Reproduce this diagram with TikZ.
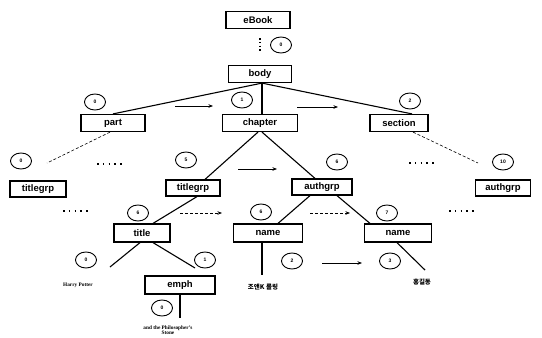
\documentclass[tikz,border=0pt]{standalone}
\usepackage{fontspec}
\setmainfont{Liberation Serif}
\setsansfont{Liberation Sans}
\newfontfamily\krfont{Noto Sans CJK KR}
\usetikzlibrary{shapes.geometric,arrows.meta}
\begin{document}
\begin{tikzpicture}[x=1pt,y=-1pt,
  box/.style={draw, line width=1.2pt, font=\sffamily\bfseries\fontsize{9.5}{10}\selectfont, minimum height=17pt, inner sep=0pt},
  circ/.style={draw, ellipse, line width=0.9pt, minimum width=21pt, minimum height=16pt, inner sep=0pt, font=\sffamily\bfseries\fontsize{5}{5}\selectfont},
  tree/.style={line width=1.1pt},
  dashlink/.style={line width=0.6pt, densely dashed},
  harrow/.style={-{Stealth[length=4.5pt,width=3.5pt]}, line width=0.6pt},
  darrow/.style={-{Stealth[length=4.5pt,width=3.5pt]}, line width=0.6pt, densely dashed},
  dotrow/.style={line width=1.4pt, dash pattern=on 1.6pt off 4.2pt},
  leaf/.style={font=\bfseries\fontsize{5.3}{5.8}\selectfont, inner sep=0pt, align=center}
]
\useasboundingbox (0,0) rectangle (542,338);

% boxes
\node[box, minimum width=64pt] (ebook) at (258,20) {eBook};
\node[box, minimum width=63pt] (body) at (260,74) {body};
\node[box, minimum width=75pt] (chapter) at (260,123) {chapter};
\node[box, minimum width=64pt] (part) at (113,123) {part};
\node[box, minimum width=58pt] (section) at (399,123) {section};
\node[box, minimum width=56pt, minimum height=16pt] (tgL) at (38,189) {titlegrp};
\node[box, minimum width=54pt, minimum height=16pt] (tg) at (193,188) {titlegrp};
\node[box, minimum width=60pt, minimum height=16pt] (ag) at (322,187) {authgrp};
\node[box, minimum width=55pt, minimum height=16pt] (agR) at (503,188) {authgrp};
\node[box, minimum width=56pt, minimum height=18pt] (title) at (142,233) {title};
\node[box, minimum width=69pt, minimum height=18pt] (nameL) at (268,233) {name};
\node[box, minimum width=67pt, minimum height=18pt] (nameR) at (398,233) {name};
\node[box, minimum width=70pt, minimum height=18pt] (emph) at (180,285) {emph};

% circles
\node[circ] (cebook) at (281,45) {0};
\node[circ] (cpart) at (95,102) {0};
\node[circ] (cchap) at (242,100) {1};
\node[circ] (csec) at (410,101) {2};
\node[circ] (ctgL) at (21,161) {0};
\node[circ] (ctg) at (186,160) {5};
\node[circ] (cag) at (337,162) {6};
\node[circ] (cagR) at (503,162) {10};
\node[circ] (ctitle) at (138,213) {6};
\node[circ] (cnameL) at (261,212) {6};
\node[circ] (cnameR) at (387,213) {7};
\node[circ] (chp) at (86,260) {0};
\node[circ] (cemph) at (205,260) {1};
\node[circ] (cemph0) at (162,308) {0};
\node[circ] (ck1) at (292,261) {2};
\node[circ] (ck2) at (390,261) {3};

% ellipsis dots (rows of five dots)
\coordinate (d1s) at (97,164);  \coordinate (d1e) at (123,164);
\coordinate (d2s) at (409,163); \coordinate (d2e) at (435,163);
\coordinate (d3s) at (63,211);  \coordinate (d3e) at (89,211);
\coordinate (d4s) at (449,211); \coordinate (d4e) at (475,211);
\draw[dotrow] (d1s) -- (d1e);
\draw[dotrow] (d2s) -- (d2e);
\draw[dotrow] (d3s) -- (d3e);
\draw[dotrow] (d4s) -- (d4e);

% leaf texts
\node[leaf] (hp) at (78,285) {Harry Potter};
\node[leaf] (phil) at (168,330) {and the Philosopher's\\[-0.5pt]Stone};
\node[font=\krfont\bfseries\fontsize{6.5}{6.5}\selectfont, inner sep=0pt] (kr1) at (263,287) {조앤K 롤링};
\node[font=\krfont\bfseries\fontsize{6.5}{6.5}\selectfont, inner sep=0pt] (kr2) at (422,282) {홍길동};

% free ends
\coordinate (hpend) at (110,267);
\coordinate (emphend) at (195,268);
\coordinate (phend) at (180,318);
\coordinate (kr1end) at (262,275);
\coordinate (kr2end) at (425,270);
\coordinate (tgLend) at (47,163);
\coordinate (agRend) at (478,163);

% tree edges
\draw[line width=1.6pt, dash pattern=on 1.5pt off 2.2pt] ([xshift=2pt,yshift=-9pt]ebook.south) -- ([yshift=14pt]body.north);
\draw[tree] ([xshift=2pt]body.south) -- (part.north);
\draw[tree] ([xshift=2pt]body.south) -- ([xshift=2pt]chapter.north);
\draw[tree] ([xshift=2pt]body.south) -- ([xshift=13pt]section.north);
\draw[tree] ([xshift=-2pt]chapter.south) -- ([xshift=12pt]tg.north);
\draw[tree] ([xshift=2pt]chapter.south) -- ([xshift=-7pt]ag.north);
\draw[tree] ([xshift=4pt]tg.south) -- ([xshift=11pt]title.north);
\draw[tree] ([xshift=-12pt]ag.south) -- ([xshift=10pt]nameL.north);
\draw[tree] ([xshift=15pt]ag.south) -- ([xshift=-28pt]nameR.north);
\draw[tree] ([xshift=-2pt]title.south) -- (hpend);
\draw[tree] ([xshift=11pt]title.south) -- (emphend);
\draw[tree] (emph.south) -- (phend);
\draw[tree] ([xshift=-6pt]nameL.south) -- (kr1end);
\draw[tree] ([xshift=-1pt]nameR.south) -- (kr2end);
\draw[dashlink] ([xshift=-3pt]part.south) -- (tgLend);
\draw[dashlink] ([xshift=14pt]section.south) -- (agRend);

% order arrows
\coordinate (a1s) at (175,106); \coordinate (a1e) at (213,106);
\coordinate (a2s) at (297,107); \coordinate (a2e) at (338,107);
\coordinate (a3s) at (238,169); \coordinate (a3e) at (277,169);
\coordinate (a4s) at (180,213); \coordinate (a4e) at (222,213);
\coordinate (a5s) at (310,213); \coordinate (a5e) at (350,213);
\coordinate (a6s) at (322,263); \coordinate (a6e) at (362,263);
\draw[harrow] (a1s) -- (a1e);
\draw[harrow] (a2s) -- (a2e);
\draw[harrow] (a3s) -- (a3e);
\draw[darrow] (a4s) -- (a4e);
\draw[darrow] (a5s) -- (a5e);
\draw[harrow] (a6s) -- (a6e);
\end{tikzpicture}
\end{document}
